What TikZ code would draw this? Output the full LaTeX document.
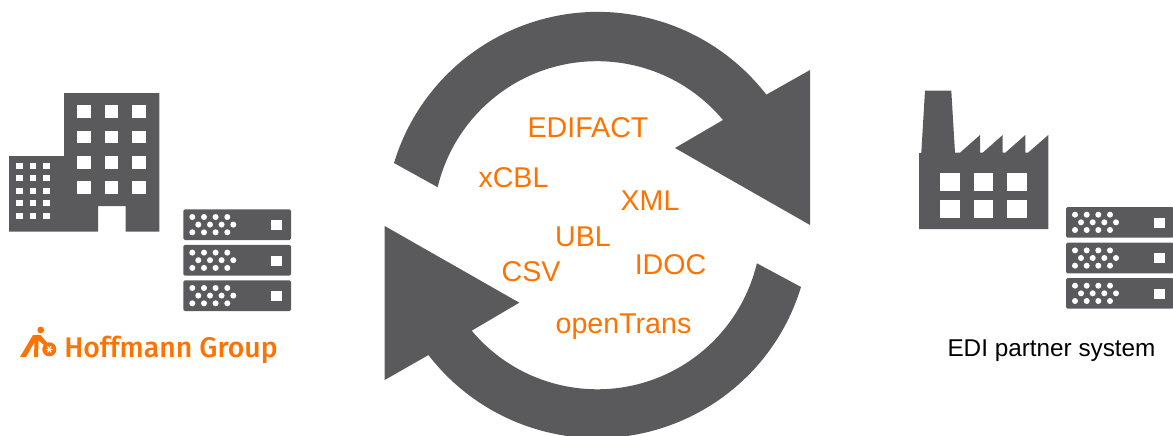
\documentclass[tikz,border=0pt]{standalone}
\usepackage{fontspec}
\setmainfont{Liberation Sans}
\newfontfamily\logofont{Fira Sans Medium}
\usetikzlibrary{positioning}
\definecolor{iconGray}{HTML}{5A5A5C}
\definecolor{hgOrange}{HTML}{FF7200}
\tikzset{
  format/.style={text=hgOrange,font=\fontsize{28.6}{30}\selectfont,inner sep=0pt},
  icon/.style={fill=iconGray,draw=none},
  hole/.style={fill=white,draw=none},
}
\newcommand{\serverstack}[4]{% x, y of first, width, offsets
  \foreach \yo in {#4} {
    \fill[iconGray,rounded corners=1.5pt] (#1,#2+\yo) rectangle ++(#3,30.7);
    \fill[white] (#1+#3-19.7,#2+\yo+10.7) rectangle ++(10.6,10);
    \foreach \dx in {9,20.7,32.3,44} {
      \fill[white] (#1+\dx,#2+\yo+7.7) circle (3pt);
      \fill[white] (#1+\dx,#2+\yo+23) circle (3pt);
      \fill[white] (#1+\dx+6,#2+\yo+15.3) circle (3pt);
    }
  }
}

\begin{document}
\begin{tikzpicture}[x=1pt,y=-1pt]
\useasboundingbox (0,0) rectangle (1173,436);
% office building
\fill[icon] (9,231.7) -- (9,156) -- (64,156) -- (64,93) -- (159.3,93) -- (159.3,231.7)
  -- (125.5,231.7) -- (125.5,206) -- (98,206) -- (98,231.7) -- cycle;
\foreach \wx in {77.3,104.7,132} {
  \foreach \wy in {105.3,130.7,156.3,181.3} {
    \fill[hole] (\wx,\wy) rectangle ++(13.7,12.7);
  }
}
\foreach \wx in {16,29.5,43.3} {
  \foreach \wy in {162.7,175.3,187.7,200.3,213} {
    \fill[hole] (\wx,\wy) rectangle ++(6.7,6);
  }
}
\serverstack{183.3}{209.3}{107.7}{0,35.6,71}
% factory
\fill[icon] (919,229) -- (919,153.3) -- (921.3,152.7) -- (925,90.7) -- (951.3,90.7) -- (955,152.7) -- (960,152.7)
  -- (980,135) -- (980,152.7) -- (982.7,152.7) -- (1002.7,135) -- (1002.7,152.7) -- (1005.3,152.7)
  -- (1025.3,135) -- (1025.3,152.7) -- (1028,152.7) -- (1048.3,135) -- (1048.3,229) -- cycle;
\foreach \wx in {940.3,973.7,1007} {
  \foreach \wy in {172.7,199.7} {
    \fill[hole] (\wx,\wy) rectangle ++(19.7,18.6);
  }
}
\serverstack{1066}{207}{107.7}{0,35.7,71}
% exchange arrows
\fill[icon] (394,163) arc[start angle=163.1,end angle=37.7,radius=213pt]
  -- (810,70) -- (810,225) -- (675,148) -- (723,120)
  arc[start angle=39.9,end angle=166.6,radius=164pt] -- cycle;
\fill[icon] (801,287) arc[start angle=343.1,end angle=217.6,radius=213pt]
  -- (384.7,380) -- (384.7,226) -- (519.3,302.7) -- (471.7,330.7)
  arc[start angle=220,end angle=346.6,radius=164pt] -- cycle;
% formats
\node[format] (edifact) at (588,127.5) {EDIFACT};
\node[format] (xcbl) at (513.5,177.5) {xCBL};
\node[format] (xml) at (650,200.5) {XML};
\node[format] (ubl) at (583,237) {UBL};
\node[format] (csv) at (531,271.5) {CSV};
\node[format] (idoc) at (670.5,264.5) {IDOC};
\node[format] (opentrans) at (623.5,326.5) {openTrans};
% labels
\node[inner sep=0pt,font=\fontsize{24.3}{26}\selectfont] (partner) at (1051.5,350.5) {EDI partner system};
\node[inner sep=0pt,text=hgOrange,font=\logofont\fontsize{28.4}{32}\selectfont] (hoffmann) at (171,350) {Hoffmann Group};
% logo mark
\fill[hgOrange] (40.7,330) circle (3.4pt);
\fill[hgOrange] (20,357) -- (33,335) -- (40.5,335) -- (47.5,343) -- (44.5,345.5) -- (38.5,340.5) -- (38,357) -- (34,357)
  -- (34.5,342) -- (26,357) -- cycle;
\fill[hgOrange] (49.3,349.3) circle (7pt);
\foreach \ang in {0,60,120} {
  \draw[white,line width=1.2pt] (49.3,349.3) +(\ang:3.5pt) -- +(\ang+180:3.5pt);
}
\end{tikzpicture}
\end{document}
